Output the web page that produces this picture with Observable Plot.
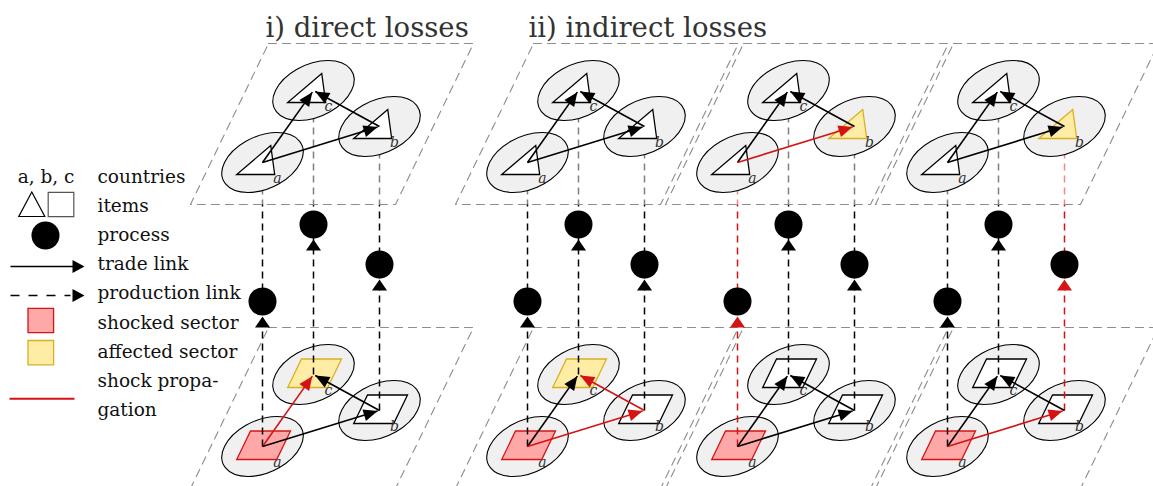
<!DOCTYPE html>
<html><head><meta charset="utf-8">
<script src="https://cdn.jsdelivr.net/npm/d3@7"></script>
<script src="https://cdn.jsdelivr.net/npm/@observablehq/plot@0.6"></script>
<style>body{margin:0;background:#fff}</style>
</head><body><div id="chart"></div>
<script>
// ---------------- data ----------------
const countries = ["a", "b", "c"];
const panelTitles = ["i) direct losses", "ii) indirect losses"];
const panels = ["i", "ii-1", "ii-2", "ii-3"];
const tradeLinks = [["a", "c"], ["a", "b"], ["b", "c"]];
// item state per panel, order a, b, c
const bottomStates = [
  ["shocked", "none", "affected"],
  ["shocked", "none", "affected"],
  ["shocked", "none", "none"],
  ["shocked", "none", "none"]
];
const topStates = [
  ["none", "none", "none"],
  ["none", "none", "none"],
  ["none", "affected", "none"],
  ["none", "affected", "none"]
];
const bottomShockLinks = [["a>c"], ["a>b", "b>c"], [], ["a>b"]];
const topShockLinks = [[], [], ["a>b"], []];
const productionShock = [[], [], ["a"], ["b"]];
const legendLabels = ["countries", "items", "process", "trade link", "production link",
  "shocked sector", "affected sector", "shock propa-", "gation"];

// ---------------- layout ----------------
const nodeXY = {a: [262, 162], b: [379, 126], c: [313, 90]};
const panelShift = [0, 265, 475, 685];
const layerShift = 284;
const processY = {a: 301, b: 264, c: 224};
const planeCorners = [[268, 43], [473, 43], [395, 204], [190, 204]];
const RED = "#d41414";
const fills = {none: "white", shocked: "#ffa8a8", affected: "#ffeda6"};
const strokes = {none: "black", shocked: "#d41414", affected: "#d8b024"};
const SERIF = "DejaVu Serif";

// ---------------- symbols ----------------
const SHEAR = 0.485;
const sh = ([p, q]) => [p - SHEAR * q, q];
function poly(pts, skew = true) {
  return {draw(ctx) {
    const s = skew ? pts.map(sh) : pts;
    ctx.moveTo(s[0][0], s[0][1]);
    for (let i = 1; i < s.length; i++) ctx.lineTo(s[i][0], s[i][1]);
    ctx.closePath();
  }};
}
const ellipseSym = {draw(ctx) {
  const a = 38, b = 30, k = 0.5523;
  const segs = [
    [[a, k * b], [k * a, b], [0, b]],
    [[-k * a, b], [-a, k * b], [-a, 0]],
    [[-a, -k * b], [-k * a, -b], [0, -b]],
    [[k * a, -b], [a, -k * b], [a, 0]]];
  const s0 = sh([a, 0]);
  ctx.moveTo(s0[0], s0[1]);
  for (const seg of segs) {
    const [c1, c2, e] = seg.map(sh);
    ctx.bezierCurveTo(c1[0], c1[1], c2[0], c2[1], e[0], e[1]);
  }
  ctx.closePath();
}};
const triSym = poly([[-20, 12], [18, 12], [0, -17]]);
const sqSym = poly([[-19.5, 13], [20.5, 13], [20.5, -15.5], [-19.5, -15.5]]);
const headSym = poly([[0, 0], [-14, -6], [-14, 6]], false);
const upHeadSym = poly([[0, 0], [-7.5, 11], [7.5, 11]], false);
const legTriSym = poly([[-13, 12], [13, 12], [0, -12.5]], false);
const legSqSym = poly([[-12.8, -12.2], [12.8, -12.2], [12.8, 12.2], [-12.8, 12.2]], false);
const legHeadSym = poly([[0, 0], [-12, -6.5], [-12, 6.5]], false);

// ---------------- derived tables ----------------
const nodes = [];
const planes = [];
const links = [];
const verticals = [];
panels.forEach((p, i) => {
  const dx = panelShift[i];
  ["top", "bottom"].forEach(layer => {
    const dy = layer === "bottom" ? layerShift : 0;
    planeCorners.forEach(([x, y]) => planes.push({panel: i, layer, x: x + dx, y: y + dy}));
    const states = layer === "top" ? topStates[i] : bottomStates[i];
    const shockL = layer === "top" ? topShockLinks[i] : bottomShockLinks[i];
    countries.forEach((c, j) => nodes.push({panel: i, layer, country: c,
      x: nodeXY[c][0] + dx, y: nodeXY[c][1] + dy, state: states[j]}));
    tradeLinks.forEach(([s, t]) => {
      const x1 = nodeXY[s][0] + dx, y1 = nodeXY[s][1] + dy;
      const xt = nodeXY[t][0] + dx, yt = nodeXY[t][1] + dy;
      const L = Math.hypot(xt - x1, yt - y1), gap = 2;
      const x2 = xt - (xt - x1) / L * gap, y2 = yt - (yt - y1) / L * gap;
      links.push({panel: i, layer, x1, y1, x2, y2,
        angle: Math.atan2(y2 - y1, x2 - x1) * 180 / Math.PI,
        color: shockL.includes(s + ">" + t) ? RED : "black"});
    });
  });
  countries.forEach(c => verticals.push({panel: i, country: c,
    x: nodeXY[c][0] + dx, y1: nodeXY[c][1] + layerShift, y2: nodeXY[c][1], yp: processY[c],
    color: productionShock[i].includes(c) ? RED : "black"}));
});
const isTop = d => d.layer === "top";
const isBot = d => d.layer === "bottom";
const legendRows = legendLabels.map((label, i) => ({label, y: 182 + i * 29.2}));

function planeLayer(filter, fill) {
  return Plot.line(planes.filter(filter), {x: "x", y: "y", z: "panel", curve: "linear-closed",
    stroke: "#8c8c8c", strokeWidth: 1.1, strokeDasharray: "8,6",
    fill: fill ? "white" : "none", fillOpacity: 0.5});
}
function nodeLayer(filter, sym) {
  const data = nodes.filter(filter);
  return [
    Plot.dot(data, {x: "x", y: "y", symbol: ellipseSym, fill: "#f0f0f0", stroke: "black", strokeWidth: 1.1}),
    Plot.dot(data, {x: "x", y: "y", symbol: sym, fill: d => fills[d.state], stroke: d => strokes[d.state], strokeWidth: 1.3}),
    Plot.text(data, {x: d => d.x + 15, y: d => d.y + 16, text: "country", fontFamily: SERIF,
      fontStyle: "italic", fontSize: 14, fill: "#333"})
  ];
}
function linkLayer(filter) {
  const data = links.filter(filter);
  return [
    Plot.link(data, {x1: "x1", y1: "y1", x2: "x2", y2: "y2", stroke: "color", strokeWidth: 1.6}),
    Plot.dot(data, {x: "x2", y: "y2", symbol: headSym, rotate: "angle", fill: "color", stroke: "none"})
  ];
}

const chart = Plot.plot({
  width: 1153, height: 486, margin: 0,
  x: {type: "identity", axis: null},
  y: {type: "identity", axis: null},
  marks: [
    // bottom plane
    planeLayer(isBot, false),
    nodeLayer(isBot, sqSym),
    // production links
    Plot.link(verticals, {x1: "x", x2: "x", y1: "y1", y2: "y2", stroke: "color",
      strokeWidth: 1.5, strokeDasharray: "7,5"}),
    linkLayer(isBot),
    Plot.dot(verticals, {x: "x", y: "yp", r: 14, fill: "black"}),
    Plot.dot(verticals, {x: "x", y: d => d.yp + 15, symbol: upHeadSym, fill: "color", stroke: "none"}),
    // top plane (semi-opaque, hides the links behind it)
    planeLayer(isTop, true),
    nodeLayer(isTop, triSym),
    linkLayer(isTop),
    // titles
    Plot.text(panelTitles, {x: [265, 528], y: 36, text: d => d, fontFamily: SERIF, fontSize: 27.5,
      fill: "#333", textAnchor: "start", lineAnchor: "bottom"}),
    // legend
    Plot.text(["a, b, c"], {x: 45.5, y: 182.5, text: d => d, fontFamily: SERIF, fontSize: 18.5,
      fill: "#111", lineAnchor: "bottom"}),
    Plot.dot([0], {x: 31.3, y: 204, symbol: legTriSym, fill: "white", stroke: "black", strokeWidth: 1.2}),
    Plot.dot([0], {x: 60.5, y: 204, symbol: legSqSym, fill: "white", stroke: "#555", strokeWidth: 1.2}),
    Plot.dot([0], {x: 45, y: 235, r: 14, fill: "black"}),
    Plot.link([0], {x1: 10, x2: 73, y1: 266, y2: 266, stroke: "black", strokeWidth: 1.6}),
    Plot.link([0], {x1: 10, x2: 70, y1: 295, y2: 295, stroke: "black", strokeWidth: 1.6, strokeDasharray: "9,9"}),
    Plot.dot([266, 295], {x: 84, y: d => d, symbol: legHeadSym, fill: "black"}),
    Plot.dot(["shocked", "affected"], {x: 40.3, y: (d, i) => 320 + i * 32.2, symbol: legSqSym,
      fill: d => fills[d], stroke: d => strokes[d], strokeWidth: 1.3}),
    Plot.link([0], {x1: 9, x2: 74, y1: 398.3, y2: 398.3, stroke: RED, strokeWidth: 2}),
    Plot.text(legendRows, {x: 97, y: "y", text: "label", fontFamily: SERIF, fontSize: 18.5,
      fill: "#111", textAnchor: "start", lineAnchor: "bottom"})
  ]
});
document.getElementById("chart").append(chart);
</script>
</body></html>
